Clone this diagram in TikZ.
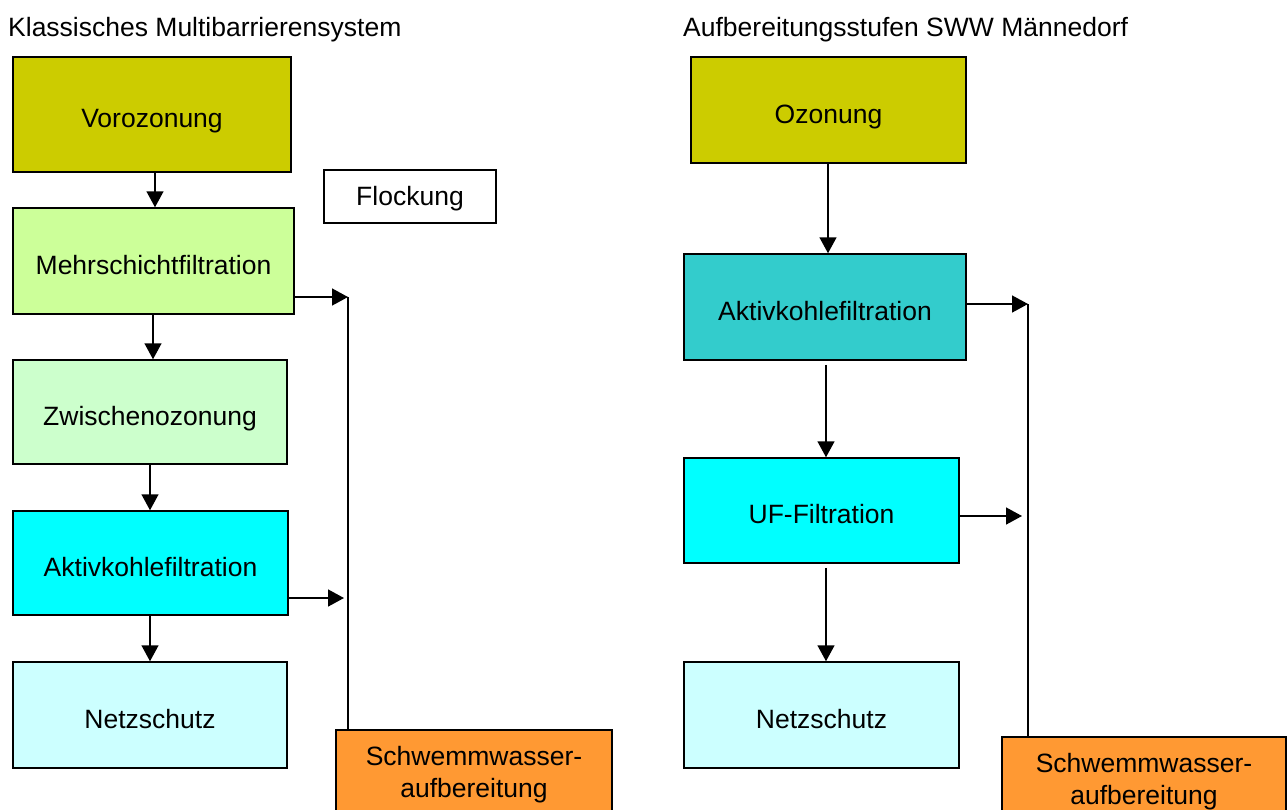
\documentclass[tikz,border=0pt]{standalone}
\usepackage{fontspec}
\setmainfont{Liberation Sans}
\usetikzlibrary{arrows.meta}
\definecolor{olivey}{HTML}{CCCC00}
\definecolor{lgreen}{HTML}{CCFF99}
\definecolor{pgreen}{HTML}{CCFFCC}
\definecolor{cyanb}{HTML}{00FFFF}
\definecolor{pcyan}{HTML}{CCFFFF}
\definecolor{teal2}{HTML}{33CCCC}
\definecolor{orng}{HTML}{FF9933}
\tikzset{
  box/.style={draw=black, line width=1.5pt, rectangle, inner sep=0pt, align=center,
    font=\fontsize{26.5}{32}\selectfont},
  sbox/.style={box, text height=31pt, text depth=5pt},
  arr/.style={line width=1.5pt, -{Triangle[width=17pt,length=16pt]}},
  ln/.style={line width=1.5pt},
  ttl/.style={anchor=base west, inner sep=0pt, font=\fontsize{26.5}{32}\selectfont}
}
\begin{document}
\begin{tikzpicture}[x=1pt,y=-1pt]
\useasboundingbox (0,0) rectangle (1288,809);
\clip (0,0) rectangle (1288,809);
% titles
\node[ttl] (t1) at (8,36.5) {Klassisches Multibarrierensystem};
\node[ttl] (t2) at (683,36.5) {Aufbereitungsstufen SWW Männedorf};
% left column
\node[sbox, fill=olivey, minimum width=278pt, minimum height=115pt] (voro) at (152,114.5) {Vorozonung};
\node[box, text height=22pt, text depth=5pt, fill=white, minimum width=172pt, minimum height=53pt] (flock) at (410,196.5) {Flockung};
\node[sbox, fill=lgreen, minimum width=281pt, minimum height=106pt] (mehr) at (153.5,261) {Mehrschichtfiltration};
\node[sbox, fill=pgreen, minimum width=274pt, minimum height=104pt] (zwi) at (150,412) {Zwischenozonung};
\node[sbox, fill=cyanb, minimum width=275pt, minimum height=104pt] (akl) at (150.5,563) {Aktivkohlefiltration};
\node[sbox, fill=pcyan, minimum width=274pt, minimum height=106pt] (netzl) at (150,715) {Netzschutz};
\node[box, fill=orng, minimum width=276pt, minimum height=90pt] (schwl) at (474,775) {Schwemmwasser-\\aufbereitung};
% left arrows
\draw[arr] (voro.south -| 155,0) -- (mehr.north -| 155,0);
\draw[arr] (mehr.south -| 153,0) -- (zwi.north -| 153,0);
\draw[arr] (zwi.south -| 150,0) -- (akl.north -| 150,0);
\draw[arr] (akl.south -| 150,0) -- (netzl.north -| 150,0);
\coordinate (jl) at (348,297);
\coordinate (al) at (344,598);
\draw[arr] (mehr.east |- jl) -- (jl);
\draw[arr] (akl.east |- al) -- (al);
\draw[ln] (jl) -- (jl |- schwl.north);
% right column
\node[sbox, fill=olivey, minimum width=275pt, minimum height=106pt] (oz) at (828.5,110) {Ozonung};
\node[sbox, fill=teal2, minimum width=282pt, minimum height=106pt] (akr) at (825,307) {Aktivkohlefiltration};
\node[sbox, fill=cyanb, minimum width=275pt, minimum height=105pt] (uf) at (821.5,510.5) {UF-Filtration};
\node[sbox, fill=pcyan, minimum width=275pt, minimum height=106pt] (netzr) at (821.5,715) {Netzschutz};
\node[box, fill=orng, minimum width=284pt, minimum height=90pt] (schwr) at (1144,782) {Schwemmwasser-\\aufbereitung};
% right arrows
\draw[arr] (oz.south -| 828,0) -- (akr.north -| 828,0);
\draw[arr] ([yshift=-4pt]akr.south -| 826,0) -- (uf.north -| 826,0);
\draw[arr] ([yshift=-4pt]uf.south -| 826,0) -- (netzr.north -| 826,0);
\coordinate (jr) at (1028,304);
\coordinate (ar) at (1022,516);
\draw[arr] (akr.east |- jr) -- (jr);
\draw[arr] (uf.east |- ar) -- (ar);
\draw[ln] (jr) -- (jr |- schwr.north);
\end{tikzpicture}
\end{document}
